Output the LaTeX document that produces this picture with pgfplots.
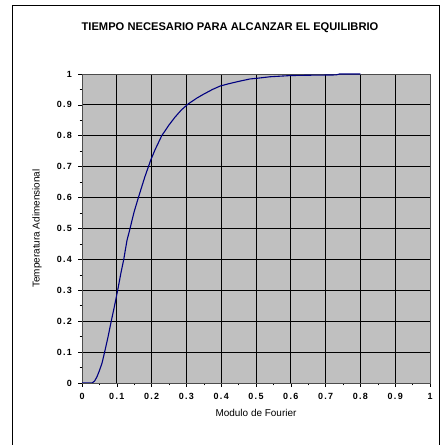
\documentclass[border=0pt]{standalone}
\usepackage{pgfplots}
\pgfplotsset{compat=1.18}
\usepackage{fontspec}
\setmainfont{Liberation Sans}
\definecolor{plotbg}{HTML}{C0C0C0}
\definecolor{curve}{HTML}{000080}
\begin{document}
\begin{tikzpicture}
\path[use as bounding box] (0,0) rectangle (441bp,445bp);
\draw[line width=0.8bp] (12bp,0) -- (12bp,440bp) -- (439.5bp,440bp) -- (439.5bp,0);
\node[font=\bfseries\fontsize{11.2}{13}\selectfont] at (230bp,417bp) {TIEMPO NECESARIO PARA ALCANZAR EL EQUILIBRIO};
\begin{axis}[
  at={(82bp,62bp)}, anchor=south west,
  scale only axis, width=348bp, height=309bp,
  xmin=0, xmax=1, ymin=0, ymax=1,
  xtick={0,0.1,...,1.01}, ytick={0,0.1,...,1.01},
  minor x tick num=1, minor y tick num=1,
  xticklabels={0,0.1,0.2,0.3,0.4,0.5,0.6,0.7,0.8,0.9,1},
  yticklabels={0,0.1,0.2,0.3,0.4,0.5,0.6,0.7,0.8,0.9,1},
  tick align=outside,
  major tick length=4bp, minor tick length=2.5bp,
  tick style={black, line width=0.6bp},
  xtick pos=bottom, ytick pos=left,
  grid=major,
  major grid style={black, line width=0.9bp},
  axis line style={draw=black!70, line width=0.8bp},
  axis background/.style={fill=plotbg},
  tick label style={font=\bfseries\fontsize{9}{10}\selectfont\addfontfeature{LetterSpace=15}},
  xticklabel style={yshift=-2.5bp},
  yticklabel style={xshift=-2.5bp},
  xlabel={Modulo de Fourier},
  ylabel={Temperatura Adimensional},
  label style={font=\fontsize{11.8}{13}\selectfont},
  every axis x label/.style={at={(axis description cs:0.5,-0.097)}, anchor=center},
  every axis y label/.style={at={(axis description cs:-0.129,0.5)}, rotate=90, anchor=center},
]
\addplot[curve, line width=1.1bp] coordinates {
(0,0) (0.029,0) (0.036,0.006) (0.043,0.02) (0.05,0.04) (0.0575,0.064)
(0.065,0.10) (0.075,0.15) (0.084,0.20) (0.093,0.247) (0.1025,0.30)
(0.112,0.357) (0.12,0.40) (0.129,0.46) (0.138,0.50) (0.15,0.555)
(0.162,0.60) (0.18,0.665) (0.197,0.72) (0.21,0.755) (0.229,0.80)
(0.25,0.835) (0.267,0.86) (0.285,0.883) (0.305,0.903) (0.33,0.922)
(0.35,0.935) (0.375,0.95) (0.397,0.961) (0.42,0.968) (0.45,0.976)
(0.483,0.984) (0.502,0.986) (0.54,0.991) (0.6,0.995) (0.65,0.996)
(0.73,0.997) (0.74,1.0) (0.8,1.0)
};
\end{axis}
\end{tikzpicture}
\end{document}
